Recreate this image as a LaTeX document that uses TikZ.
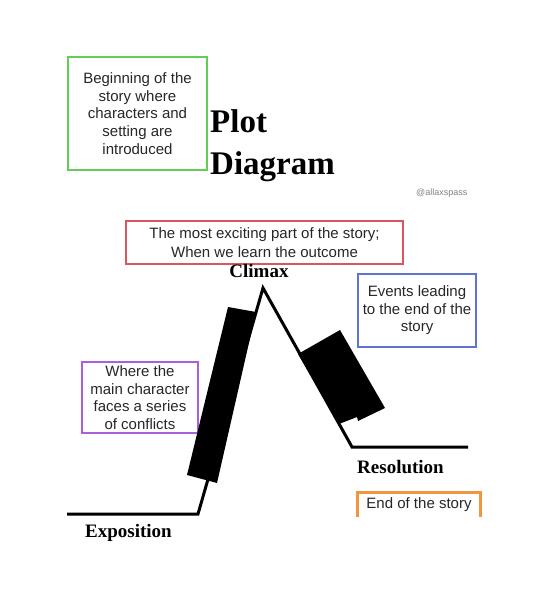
\documentclass[tikz,border=0pt]{standalone}
\usepackage{fontspec}
\setmainfont{Liberation Serif}
\newfontfamily\notefont{Liberation Sans}
\usetikzlibrary{calc}
\definecolor{notegreen}{RGB}{100,205,85}
\definecolor{notered}{RGB}{218,85,95}
\definecolor{noteblue}{RGB}{95,115,210}
\definecolor{notepurple}{RGB}{170,95,220}
\definecolor{noteorange}{RGB}{240,150,60}
\tikzset{
	note/.style={draw, line width=2.5pt, inner sep=0pt, align=center, text=black!85,
		font=\notefont\fontsize{15}{17.6}\selectfont},
	stage/.style={anchor=base west, inner sep=0pt, font=\bfseries\fontsize{19}{22}\selectfont},
	heading/.style={anchor=base west, inner sep=0pt, font=\bfseries\fontsize{33}{40}\selectfont},
	plotline/.style={line width=3pt, line join=miter},
}
\begin{document}
\begin{tikzpicture}[x=1pt,y=-1pt]
\useasboundingbox (0,0) rectangle (546,610);

\node[note, draw=notegreen, minimum width=139pt, minimum height=113pt] (begin) at (137.5,113.5)
	{Beginning of the\\story where\\characters and\\setting are\\introduced};
\node[heading] (plot) at (210,132) {Plot};
\node[heading] (diagram) at (210,174) {Diagram};
\node[anchor=base west, inner sep=0pt, text=gray, font=\notefont\fontsize{9}{10}\selectfont] (tag) at (416,195) {@allaxspass};

\node[note, draw=notered, minimum width=277pt, minimum height=43pt,
	font=\notefont\fontsize{15}{18.7}\selectfont] (exciting) at (264.5,242.5)
	{The most exciting part of the story;\\When we learn the outcome};
\node[note, draw=noteblue, minimum width=118pt, minimum height=73pt] (events) at (417,310.5)
	{Events leading\\to the end of the\\story};
\node[note, draw=notepurple, minimum width=116pt, minimum height=71pt] (conflicts) at (140,397.5)
	{Where the\\main character\\faces a series\\of conflicts};

\coordinate (e0) at (67,514);
\coordinate (e1) at (198,514);
\coordinate (top) at (263,288);
\coordinate (f1) at (352,447);
\coordinate (r1) at (468,447);
\draw[plotline] (e0) -- (e1) -- (top) -- (f1) -- (r1);

\fill (228,307) -- (256,312) -- (217,483) -- (187,475) -- cycle;
\fill (340,330) -- (298,354) -- (339,424) -- (357,417) -- (358,421) -- (385,408) -- cycle;

\node[stage, anchor=base] (climax) at (259,277) {Climax};
\node[stage] (resolution) at (357,473) {Resolution};
\node[stage] (exposition) at (85,537) {Exposition};

\node[note, draw=none, minimum width=120pt, minimum height=22pt] (end) at (419,505) {End of the story};
\draw[noteorange, line width=3pt] (end.south west) |- (end.north east) -- (end.south east);
\end{tikzpicture}
\end{document}
